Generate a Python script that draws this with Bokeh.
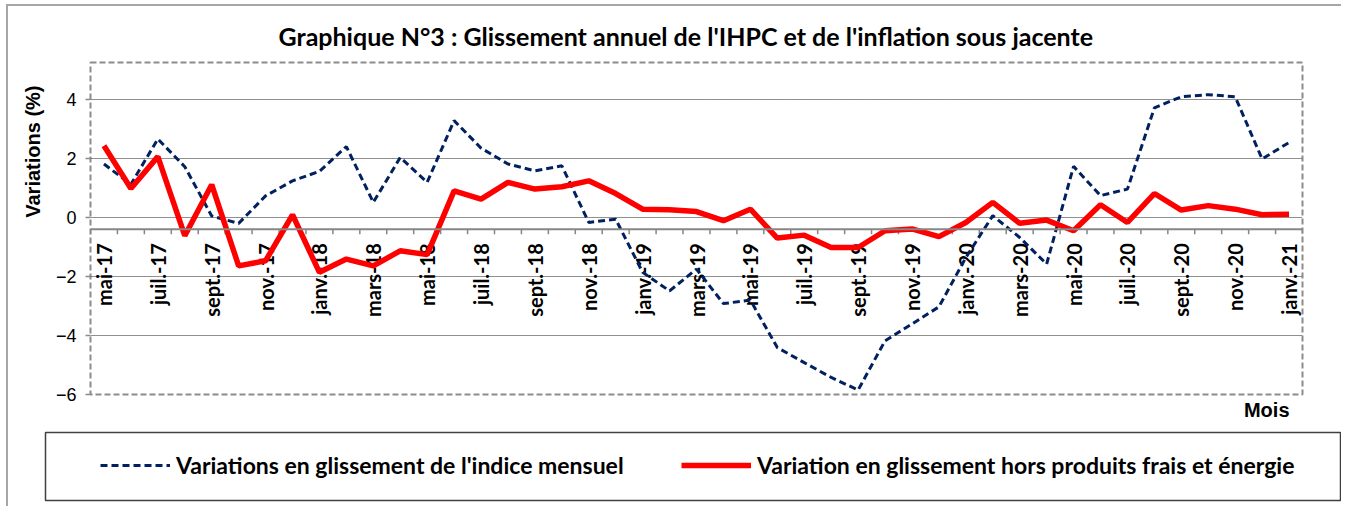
import math
from bokeh.plotting import figure
from bokeh.layouts import column
from bokeh.models import (Range1d, FixedTicker, Title, Legend, LegendItem, Span)
from bokeh.core.properties import value
from bokeh.embed import file_html
from bokeh.resources import INLINE

# ---------------- data ----------------
months = ["mai-17", "juin-17", "juil.-17", "août-17", "sept.-17", "oct.-17", "nov.-17", "déc.-17",
          "janv.-18", "févr.-18", "mars-18", "avr.-18", "mai-18", "juin-18", "juil.-18", "août-18",
          "sept.-18", "oct.-18", "nov.-18", "déc.-18",
          "janv.-19", "févr.-19", "mars-19", "avr.-19", "mai-19", "juin-19", "juil.-19", "août-19",
          "sept.-19", "oct.-19", "nov.-19", "déc.-19",
          "janv.-20", "févr.-20", "mars-20", "avr.-20", "mai-20", "juin-20", "juil.-20", "août-20",
          "sept.-20", "oct.-20", "nov.-20", "déc.-20", "janv.-21"]

indice_mensuel = [1.81, 1.12, 2.66, 1.72, 0.05, -0.20, 0.73, 1.24, 1.56, 2.40, 0.51, 2.03, 1.19,
                  3.28, 2.35, 1.81, 1.58, 1.75, -0.17, -0.06, -1.86, -2.49, -1.75, -2.92, -2.80,
                  -4.41, -4.92, -5.42, -5.85, -4.18, -3.61, -3.03, -1.36, 0.06, -0.68, -1.58,
                  1.73, 0.74, 0.96, 3.71, 4.09, 4.16, 4.09, 1.98, 2.54]

hors_frais_energie = [2.43, 0.98, 2.06, -0.62, 1.11, -1.64, -1.47, 0.09, -1.86, -1.41, -1.64,
                      -1.13, -1.26, 0.90, 0.62, 1.19, 0.96, 1.04, 1.24, 0.81, 0.28, 0.26, 0.20,
                      -0.11, 0.28, -0.70, -0.60, -1.02, -1.02, -0.45, -0.39, -0.65, -0.17, 0.51,
                      -0.20, -0.09, -0.45, 0.43, -0.17, 0.81, 0.25, 0.40, 0.28, 0.09, 0.11]

y_ticks = [-6, -4, -2, 0, 2, 4]
grid_ticks = [-4, -2, 0, 2, 4]
axis_cross = -0.4

title_text = "Graphique N°3 : Glissement annuel de l'IHPC et de l'inflation sous jacente"
y_title = "Variations (%)"
x_title = "Mois"
label_serie1 = "Variations en glissement de l'indice mensuel"
label_serie2 = "Variation en glissement hors produits frais et énergie"

BLUE = "#002060"
RED = "#ff0000"

# ---------------- main chart ----------------
W = 1333
H1 = 420
ML, MR, MT, MB = 82, 39, 56, 32
frame_h = H1 - MT - MB
n = len(months)
x_lo, x_hi = -0.5, n - 0.5
y_lo, y_hi = -6.0, 5.25
ppy = frame_h / (y_hi - y_lo)
idx = list(range(n))

p = figure(width=W, height=H1, output_backend="svg", toolbar_location=None,
           x_range=Range1d(x_lo, x_hi), y_range=Range1d(y_lo, y_hi),
           min_border_left=ML, min_border_right=MR, min_border_top=MT, min_border_bottom=MB,
           background_fill_color="white", border_fill_color="white")
p.frame_align = False

p.title.text = title_text
p.title.text_font = "Lato"
p.title.text_font_style = "bold"
p.title.text_font_size = "25px"
p.title.text_color = "black"
p.title.align = "left"
p.title.offset = 188
p.title.standoff = 24

p.outline_line_color = "#8c8c8c"
p.outline_line_width = 2
p.outline_line_dash = "6 3"

p.xaxis.visible = False
p.xgrid.visible = False

p.ygrid.ticker = FixedTicker(ticks=grid_ticks)
p.ygrid.grid_line_color = "#202020"
p.ygrid.grid_line_dash = "1 1"
p.ygrid.grid_line_width = 1

yax = p.yaxis[0]
yax.ticker = FixedTicker(ticks=y_ticks)
yax.axis_line_color = None
yax.major_tick_line_color = "#8c8c8c"
yax.major_tick_line_width = 1.5
yax.major_tick_out = 5
yax.major_tick_in = 0
yax.minor_tick_line_color = None
yax.major_label_text_font = "Liberation Sans"
yax.major_label_text_font_size = "18px"
yax.major_label_text_color = "black"
yax.major_label_standoff = 9

# category axis crossing at y = axis_cross
p.add_layout(Span(location=axis_cross, dimension="width", line_color="#868686", line_width=2))
bounds = [i - 0.5 for i in range(n + 1)]
tick_len = 5 / ppy
p.segment(x0=bounds, x1=bounds, y0=[axis_cross] * len(bounds),
          y1=[axis_cross - tick_len] * len(bounds), line_color="#868686", line_width=1.5)
lab_idx = idx[::2]
p.text(x=lab_idx, y=[axis_cross] * len(lab_idx), text=[months[i] for i in lab_idx],
       angle=math.pi / 2, text_align="right", text_baseline="middle", y_offset=14,
       text_font=value("Lato"), text_font_style="bold", text_font_size="20px",
       text_color="black")

# series
r1 = p.line(idx, indice_mensuel, line_color=BLUE, line_width=3, line_dash="7 4")
r2 = p.line(idx, hors_frais_energie, line_color=RED, line_width=5.5)

# axis titles
p.add_layout(Title(text=y_title, align="right", offset=23, text_font="Liberation Sans",
                   text_font_style="bold", text_font_size="20px", text_color="black",
                   standoff=18), "left")
p.add_layout(Title(text=x_title, align="right", offset=13, text_font="Liberation Sans",
                   text_font_style="bold", text_font_size="20px", text_color="black",
                   standoff=4), "below")

# ---------------- legend box ----------------
H2 = 80
q = figure(width=W, height=H2, output_backend="svg", toolbar_location=None,
           x_range=Range1d(-200, -199), y_range=Range1d(-200, -199),
           min_border_left=37, min_border_right=1, min_border_top=6, min_border_bottom=6,
           background_fill_color="white", border_fill_color="white")
q.frame_align = False
q.axis.visible = False
q.grid.visible = False
q.outline_line_color = "#404040"
q.outline_line_width = 1.5
l1 = q.line(idx, indice_mensuel, line_color=BLUE, line_width=3, line_dash="7 4")
l2 = q.line(idx, hors_frais_energie, line_color=RED, line_width=5.5)
legend = Legend(items=[LegendItem(label=label_serie1, renderers=[l1]),
                       LegendItem(label=label_serie2, renderers=[l2])],
                orientation="horizontal", location=(55, 21), margin=0, padding=0,
                spacing=52, glyph_width=70, glyph_height=26, label_height=26,
                label_width=453, label_standoff=6,
                label_text_font="Lato", label_text_font_style="bold",
                label_text_font_size="23px", label_text_baseline="middle",
                label_text_color="black",
                border_line_color=None, background_fill_alpha=0)
q.add_layout(legend, "center")

inner = column(p, q, spacing=0,
               styles={"border-top": "2px solid #a6a6a6", "border-left": "2px solid #a6a6a6"})
outer = column(inner, styles={"padding-left": "6px", "padding-top": "4px"})

open("out.html", "w").write(file_html(outer, INLINE))
